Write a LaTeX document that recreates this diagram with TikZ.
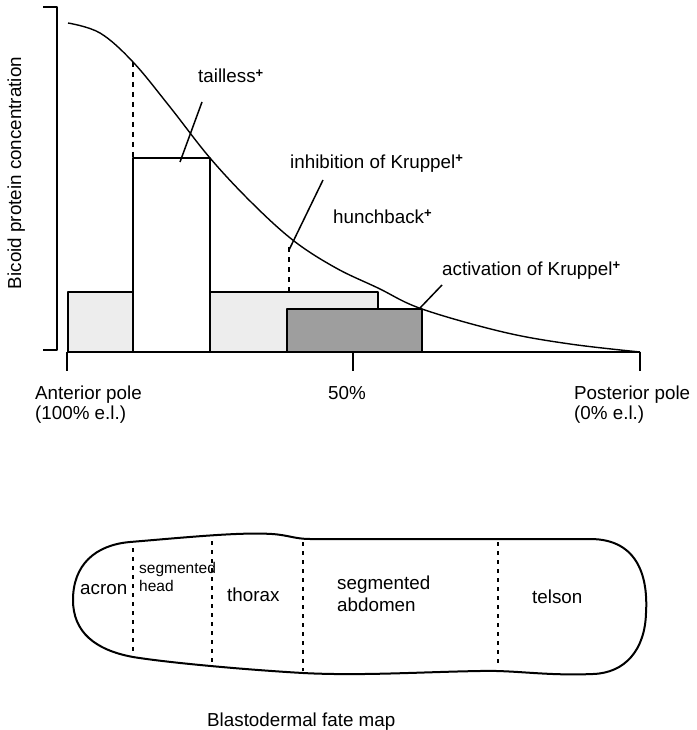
\documentclass[tikz,border=0pt]{standalone}
\usepackage{fontspec}
\setmainfont{Liberation Sans}
\definecolor{lightfill}{gray}{0.93}
\definecolor{darkfill}{gray}{0.62}
\newcommand{\supplus}{\raisebox{5.5pt}{\fontsize{13}{13}\selectfont\bfseries +}}
\begin{document}
\begin{tikzpicture}[x=1pt,y=-1pt,line join=round,
  lbl/.style={anchor=base west,inner sep=0pt,font=\fontsize{18.8}{21}\selectfont},
  smalllbl/.style={anchor=base west,inner sep=0pt,font=\fontsize{15.5}{18}\selectfont},
  boxline/.style={line width=1.4pt},
  leader/.style={line width=1.5pt},
  dashline/.style={line width=1.2pt,dash pattern=on 5pt off 5pt},
  fatedash/.style={line width=1.3pt,dash pattern=on 4pt off 5pt},
  axisline/.style={line width=1.6pt}]
\useasboundingbox (0,0) rectangle (696,730);

% bars
\draw[boxline,fill=lightfill] (68,292) rectangle (378,352);
\draw[boxline,fill=white] (133,158) rectangle (210,352);
\draw[boxline,fill=darkfill] (287,309) rectangle (422,352);

% bracket (y axis)
\draw[axisline] (43,7) -- (57,7) -- (57,350) -- (43,350);
\node[rotate=90,anchor=base,inner sep=0pt,font=\fontsize{18.8}{21}\selectfont] (ylab) at (21,173) {Bicoid protein concentration};

% x axis
\coordinate (ax0) at (67,352);
\coordinate (ax50) at (353,352);
\coordinate (ax100) at (640,352);
\draw[axisline] (ax0) -- (ax100);
\draw[axisline] (ax0) -- ++(0,19);
\draw[axisline] (ax50) -- ++(0,19);
\draw[axisline] (ax100) -- ++(0,19);

% gradient curve
\draw[line width=1.4pt] plot[smooth,tension=0.6] coordinates
  {(68,23) (100,33) (133,62) (170,107) (210,158) (252,203) (294,241) (336,268) (378,288) (422,309) (503,332) (570,344) (640,352)};

% dashed drops
\draw[dashline] (133,62) -- (133,158);
\draw[dashline] (289,247) -- (289,292);

% labels
\node[lbl] (tll) at (198,83) {tailless\supplus};
\node[lbl] (inh) at (290,168) {inhibition of Kruppel\supplus};
\node[lbl] (hb) at (333,223) {hunchback\supplus};
\node[lbl] (act) at (442,275) {activation of Kruppel\supplus};

\coordinate (tllA) at (202,102);
\coordinate (tllB) at (180,162);
\coordinate (inhA) at (323,180);
\coordinate (inhB) at (289,250);
\coordinate (actA) at (442,285);
\coordinate (actB) at (420,308);
\draw[leader] (tllA) -- (tllB);
\draw[leader] (inhA) -- (inhB);
\draw[leader] (actA) -- (actB);

\node[lbl] (ant1) at (35,399) {Anterior pole};
\node[lbl] (ant2) at (35,419) {(100\% e.l.)};
\node[lbl] (mid) at (328,399) {50\%};
\node[lbl] (post1) at (574,399) {Posterior pole};
\node[lbl] (post2) at (574,419) {(0\% e.l.)};

% fate map
\draw[line width=2pt] (130,542) .. controls (190,537) and (240,532) .. (272,534)
  .. controls (288,535) and (295,539) .. (310,539) -- (590,539)
  .. controls (640,539) and (648,580) .. (646,613)
  .. controls (645,650) and (625,673) .. (593,674)
  .. controls (545,676) and (515,670) .. (480,671)
  .. controls (420,672) and (360,676) .. (303,673)
  .. controls (250,670) and (170,663) .. (133,657)
  .. controls (95,650) and (73,632) .. (73,600)
  .. controls (73,565) and (95,545) .. (130,542) -- cycle;
\draw[fatedash] (133,548) -- (133,652);
\draw[fatedash] (212,541) -- (212,665);
\draw[fatedash] (303,542) -- (303,671);
\draw[fatedash] (498,542) -- (498,663);

\node[lbl] (acron) at (80,594) {acron};
\node[smalllbl] (sh1) at (139,573) {segmented};
\node[smalllbl] (sh2) at (139,591) {head};
\node[lbl] (thx) at (227,601) {thorax};
\node[lbl] (sa1) at (337,589) {segmented};
\node[lbl] (sa2) at (337,611) {abdomen};
\node[lbl] (tel) at (532,603) {telson};
\node[lbl] (cap) at (207,726) {Blastodermal fate map};
\end{tikzpicture}
\end{document}
